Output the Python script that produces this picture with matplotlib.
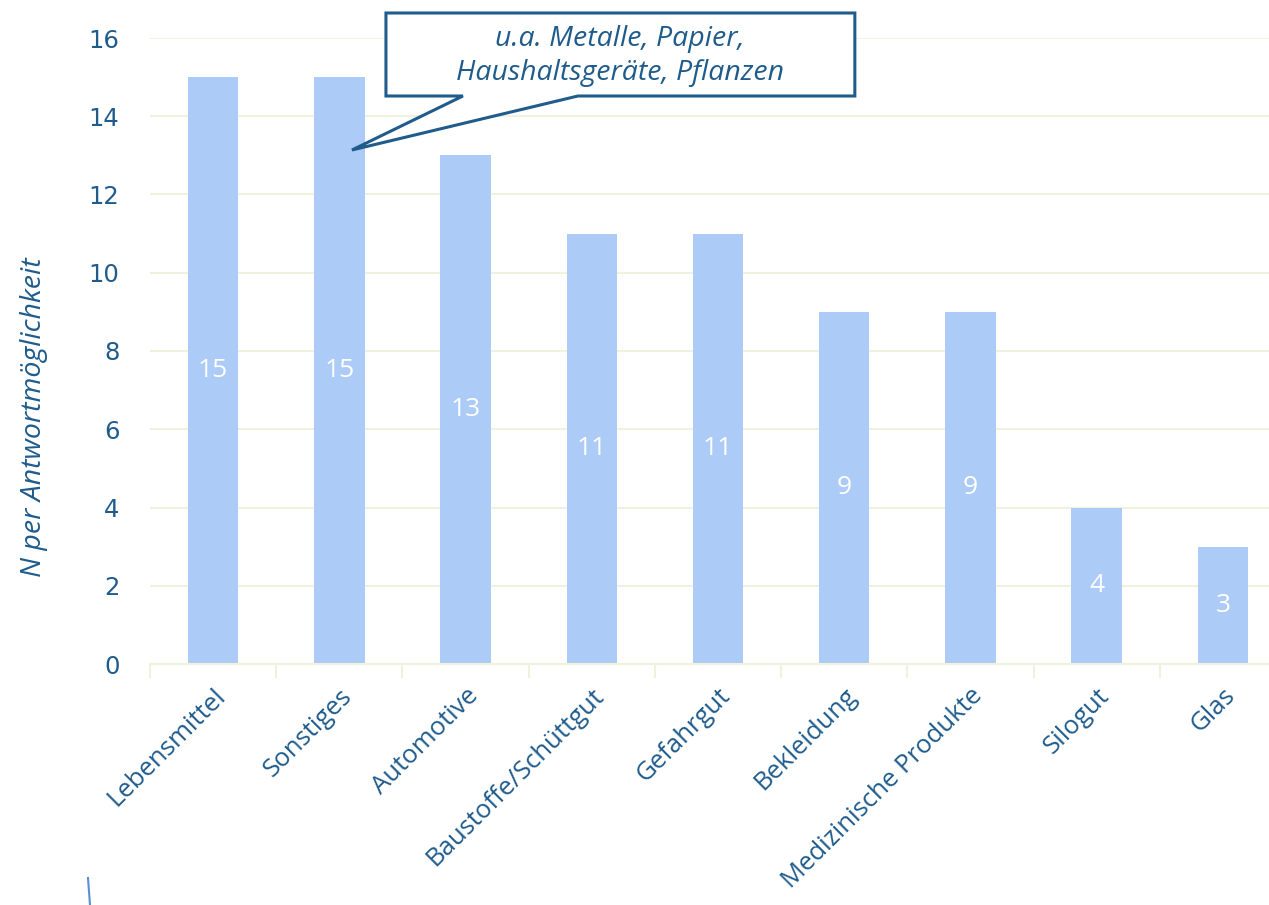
import numpy as np
import matplotlib
matplotlib.use('Agg')
from matplotlib import pyplot as plt
from matplotlib.patches import Polygon
from matplotlib.lines import Line2D

# Daten
kategorien = ['Lebensmittel', 'Sonstiges', 'Automotive', 'Baustoffe/Schüttgut', 'Gefahrgut',
              'Bekleidung', 'Medizinische Produkte', 'Silogut', 'Glas']
werte = [15, 15, 13, 11, 11, 9, 9, 4, 3]
y_ticks = [0, 2, 4, 6, 8, 10, 12, 14, 16]
callout_text = 'u.a. Metalle, Papier,\nHaushaltsgeräte, Pflanzen'

dunkelblau = '#1F5C8C'
balken = '#ADCBF7'
gitter = '#F1F1DF'

W, H = 1269, 905
fig = plt.figure(figsize=(W / 100, H / 100), dpi=100)
# Achse in Pixeln: x 150..1286, y 38..664
ax = fig.add_axes([150 / W, 1 - 664 / H, (1286 - 150) / W, (664 - 38) / H])

x = np.arange(len(kategorien))
ax.bar(x, werte, width=0.4, color=balken, zorder=2)
for xi, v in zip(x, werte):
    ax.text(xi, v / 2, str(v), ha='center', va='center', color='white',
            fontsize=19, family=['Open Sans', 'DejaVu Sans'], zorder=3)

ax.set_xlim(-0.5, len(kategorien) - 0.5)
ax.set_ylim(0, 16)
ax.set_yticks(y_ticks)
ax.set_yticklabels([str(t) for t in y_ticks], color=dunkelblau, fontsize=17.5,
                   family=['DejaVu Sans'])
ax.tick_params(axis='y', length=0, pad=22)
ax.yaxis.grid(True, color=gitter, linewidth=1.5, zorder=0)

# Kategorie-Trennstriche unten
ax.set_xticks(np.arange(-0.5, len(kategorien) + 0.5, 1.0))
ax.set_xticklabels([])
ax.tick_params(axis='x', length=10, width=1.5, color=gitter, direction='out')
ax.set_xticks(x, minor=True)
ax.set_xticklabels(kategorien, minor=True, rotation=45, ha='right',
                   rotation_mode='anchor', color=dunkelblau, fontsize=18.5,
                   family=['Open Sans', 'DejaVu Sans'])
ax.tick_params(axis='x', which='minor', length=0, pad=14)

for s in ['top', 'right', 'left']:
    ax.spines[s].set_visible(False)
ax.spines['bottom'].set_color(gitter)
ax.spines['bottom'].set_linewidth(1.5)

ax.set_ylabel('N per Antwortmöglichkeit', color=dunkelblau, fontsize=20.5,
              style='italic', family=['Open Sans', 'DejaVu Sans'])
ax.yaxis.set_label_coords(-0.09, 0.395)

# Sprechblase
def px(xp, yp):
    return ((xp - 150) / 126.25 - 0.5, (664 - yp) / 39.125)

pts = [px(386, 13), px(855, 13), px(855, 96), px(578, 96), px(352, 150), px(463, 96), px(386, 96)]
blase = Polygon(pts, closed=True, facecolor='white', edgecolor=dunkelblau,
                linewidth=2.2, clip_on=False, zorder=5, joinstyle='miter')
ax.add_patch(blase)
cx, cy = px(620, 56)
ax.text(cx, cy, callout_text, ha='center', va='center', color=dunkelblau,
        fontsize=20.5, style='italic', linespacing=1.3,
        family=['Open Sans', 'DejaVu Sans'], zorder=6, clip_on=False)

# kleiner Strich unten links
fig.add_artist(Line2D([88 / W, 90 / W], [1 - 878 / H, 0], color='#5B8FD0', linewidth=1.5))

fig.savefig('out.png', dpi=100)
